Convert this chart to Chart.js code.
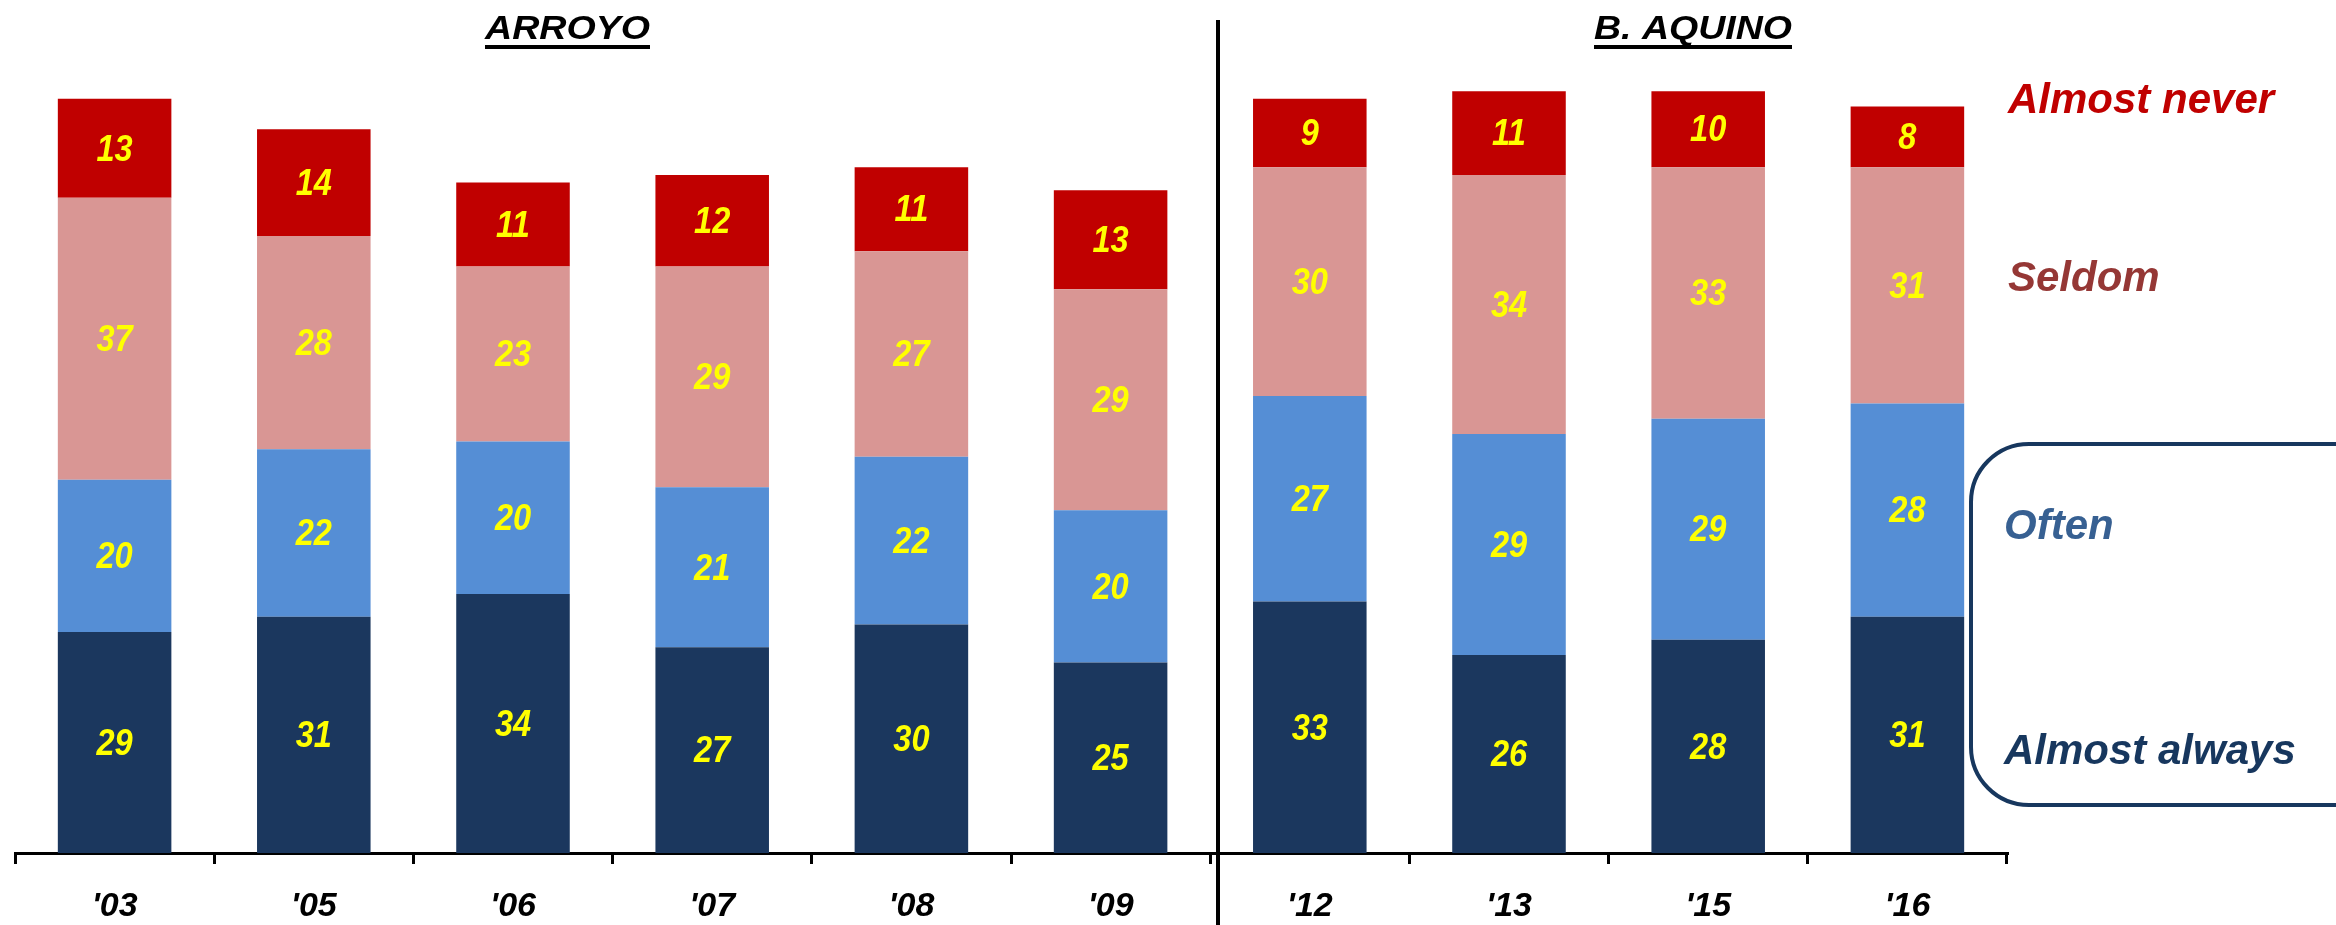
<!DOCTYPE html>
<html>
<head>
<meta charset="utf-8">
<script src="https://cdn.jsdelivr.net/npm/chart.js@4.4.1/dist/chart.umd.min.js"></script>
<style>
  html, body { margin: 0; padding: 0; background: #fff; }
  canvas { display: block; }
</style>
</head>
<body>
<canvas id="chart" width="2336" height="925"></canvas>
<script>
// Jahre (Kategorien)
const years = ["'03", "'05", "'06", "'07", "'08", "'09", "'12", "'13", "'15", "'16"];

// Werte je Antwort (in %)
const almostAlways = [29, 31, 34, 27, 30, 25, 33, 26, 28, 31];
const often = [20, 22, 20, 21, 22, 20, 27, 29, 29, 28];
const seldom = [37, 28, 23, 29, 27, 29, 30, 34, 33, 31];
const almostNever = [13, 14, 11, 12, 11, 13, 9, 11, 10, 8];

const seriesNames = ['Almost always', 'Often', 'Seldom', 'Almost never'];
const groupTitles = ['ARROYO', 'B. AQUINO'];

const FONT = '"Liberation Sans", Arial, sans-serif';

// Zahlen in den Balken (gelb, fett kursiv, etwas schmaler)
const valueLabels = {
    id: 'valueLabels',
    afterDatasetsDraw(chart) {
        const ctx = chart.ctx;
        ctx.save();
        ctx.font = 'italic bold 37px ' + FONT;
        ctx.fillStyle = '#FFFF00';
        ctx.textAlign = 'center';
        ctx.textBaseline = 'middle';
        chart.data.datasets.forEach((ds, i) => {
            const meta = chart.getDatasetMeta(i);
            meta.data.forEach((bar, j) => {
                const cy = (bar.y + bar.base) / 2;
                ctx.save();
                ctx.translate(bar.x, cy + 2);
                ctx.scale(0.88, 1);
                ctx.fillText(String(ds.data[j]), 0, 0);
                ctx.restore();
            });
        });
        ctx.restore();
    }
};

// Titel, Trennlinie, Legende rechts
const decorations = {
    id: 'decorations',
    afterDraw(chart) {
        const ctx = chart.ctx;
        ctx.save();

        // Trennlinie zwischen den Präsidentschaften
        ctx.strokeStyle = '#000';
        ctx.lineWidth = 4;
        ctx.beginPath();
        ctx.moveTo(1218, 20);
        ctx.lineTo(1218, 925);
        ctx.stroke();

        // Gruppentitel, unterstrichen
        const titles = [
            { text: groupTitles[0], left: 485, width: 165 },
            { text: groupTitles[1], left: 1594, width: 198 }
        ];
        ctx.font = 'italic bold 33px ' + FONT;
        ctx.fillStyle = '#000';
        ctx.textBaseline = 'alphabetic';
        ctx.textAlign = 'left';
        titles.forEach(t => {
            const w = ctx.measureText(t.text).width;
            ctx.save();
            ctx.translate(t.left, 39);
            ctx.scale(t.width / w, 1);
            ctx.fillText(t.text, 0, 0);
            ctx.restore();
            ctx.fillRect(t.left, 45, t.width, 4);
        });

        // Legende als Beschriftung rechts
        const legend = [
            { text: seriesNames[3], x: 2008, y: 101, color: '#C00000' },
            { text: seriesNames[2], x: 2008, y: 279, color: '#953735' },
            { text: seriesNames[1], x: 2004, y: 527, color: '#376092' },
            { text: seriesNames[0], x: 2004, y: 752, color: '#17375E' }
        ];
        ctx.font = 'italic bold 42px ' + FONT;
        ctx.textBaseline = 'middle';
        legend.forEach(l => {
            ctx.fillStyle = l.color;
            ctx.fillText(l.text, l.x, l.y);
        });

        // abgerundeter Rahmen um Often / Almost always
        ctx.strokeStyle = '#17375E';
        ctx.lineWidth = 4;
        ctx.beginPath();
        ctx.roundRect(1971, 444, 420, 361, 58);
        ctx.stroke();

        ctx.restore();
    }
};

const chart = new Chart(document.getElementById('chart'), {
    type: 'bar',
    data: {
        labels: years,
        datasets: [
            { label: seriesNames[0], data: almostAlways, backgroundColor: '#1B375E' },
            { label: seriesNames[1], data: often, backgroundColor: '#558ED5' },
            { label: seriesNames[2], data: seldom, backgroundColor: '#D99694' },
            { label: seriesNames[3], data: almostNever, backgroundColor: '#C00000' }
        ]
    },
    options: {
        responsive: false,
        animation: false,
        devicePixelRatio: 1,
        layout: { padding: { left: 15, right: 329, top: 15, bottom: 0 } },
        datasets: {
            bar: { categoryPercentage: 1, barPercentage: 0.57, borderWidth: 0 }
        },
        plugins: {
            legend: { display: false },
            tooltip: { enabled: false },
            title: { display: false }
        },
        scales: {
            x: {
                stacked: true,
                grid: {
                    offset: true,
                    drawOnChartArea: false,
                    drawTicks: true,
                    tickLength: 11,
                    color: '#000',
                    lineWidth: 3
                },
                border: { display: true, color: '#000', width: 3 },
                ticks: {
                    color: '#000',
                    padding: 22,
                    font: { family: FONT, size: 34, style: 'italic', weight: 'bold' }
                },
                afterFit(scale) { scale.height = 72; }
            },
            y: {
                stacked: true,
                display: false,
                min: 0,
                max: 110
            }
        }
    },
    plugins: [valueLabels, decorations]
});
</script>
</body>
</html>
